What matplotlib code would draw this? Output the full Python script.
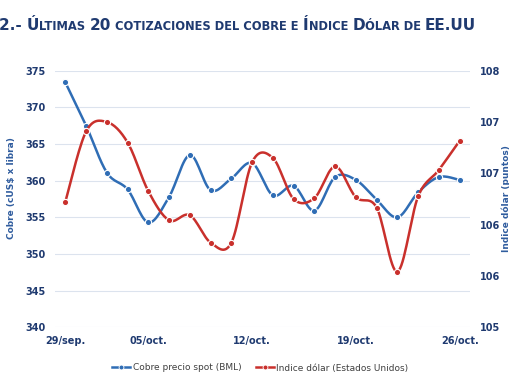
import numpy as np
import matplotlib
matplotlib.use("Agg")
import matplotlib.pyplot as plt
from matplotlib.ticker import FormatStrFormatter

# Data
fechas = ["29/sep.", "30/sep.", "01/oct.", "02/oct.", "05/oct.", "06/oct.", "07/oct.",
          "08/oct.", "09/oct.", "12/oct.", "13/oct.", "14/oct.", "15/oct.", "16/oct.",
          "19/oct.", "20/oct.", "21/oct.", "22/oct.", "23/oct.", "26/oct."]
cobre = [373.4, 367.5, 361.1, 358.8, 354.3, 357.8, 363.5, 358.7, 360.3, 362.4,
         358.0, 359.3, 355.9, 360.5, 360.1, 357.4, 355.0, 358.4, 360.5, 360.1]
dolar = [106.47, 107.29, 107.40, 107.16, 106.59, 106.25, 106.31, 105.99, 105.99, 106.93,
         106.98, 106.50, 106.51, 106.88, 106.52, 106.40, 105.65, 106.53, 106.84, 107.18]
etiquetas_idx = [0, 4, 9, 14, 19]

AZUL = "#2F6DB5"
ROJO = "#C9302C"
NAVY = "#1F3A70"


def suavizar(x, y, n=16):
    """Catmull-Rom style smoothing like Excel's smoothed lines."""
    x = np.asarray(x, float)
    y = np.asarray(y, float)
    px = np.concatenate([[x[0]], x, [x[-1]]])
    py = np.concatenate([[y[0]], y, [y[-1]]])
    xs, ys = [], []
    t = np.linspace(0, 1, n, endpoint=False)
    for i in range(1, len(px) - 2):
        p0 = np.array([px[i - 1], py[i - 1]])
        p1 = np.array([px[i], py[i]])
        p2 = np.array([px[i + 1], py[i + 1]])
        p3 = np.array([px[i + 2], py[i + 2]])
        c1 = p1 + (p2 - p0) / 6
        c2 = p2 - (p3 - p1) / 6
        b = ((1 - t) ** 3)[:, None] * p1 + (3 * (1 - t) ** 2 * t)[:, None] * c1 \
            + (3 * (1 - t) * t ** 2)[:, None] * c2 + (t ** 3)[:, None] * p2
        xs.extend(b[:, 0])
        ys.extend(b[:, 1])
    xs.append(x[-1])
    ys.append(y[-1])
    return np.array(xs), np.array(ys)


fig = plt.figure(figsize=(5.1, 3.82), dpi=100)
ax = fig.add_axes([55 / 510, 1 - 327.3 / 382, 415 / 510, 256.6 / 382])
ax2 = ax.twinx()

x = np.arange(len(fechas))

# grid
ax.set_ylim(340, 375)
ax.set_yticks(np.arange(340, 376, 5))
ax.grid(axis="y", color="#DCE3EE", linewidth=0.8)
ax.set_axisbelow(True)
ax.set_xlim(-0.5, len(fechas) - 0.5)
ax2.set_ylim(105, 108)
ax2.set_yticks(np.arange(105, 108.01, 0.6))
ax2.yaxis.set_major_formatter(FormatStrFormatter("%.0f"))

for a in (ax, ax2):
    for s in a.spines.values():
        s.set_visible(False)
    a.tick_params(length=0, labelsize=7, labelcolor=NAVY)
    for lab in a.get_yticklabels():
        lab.set_fontweight("bold")
ax.tick_params(axis="y", pad=7)
ax2.tick_params(axis="y", pad=7)

ax.set_xticks(etiquetas_idx)
ax.set_xticklabels([fechas[i] for i in etiquetas_idx], fontweight="bold")
ax.tick_params(axis="x", pad=6)

# series
sx, sy = suavizar(x, cobre)
ax.plot(sx, sy, color=AZUL, linewidth=1.8, zorder=3)
ax.plot(x, cobre, "o", color=AZUL, markersize=4.5, markeredgecolor="white",
        markeredgewidth=0.8, zorder=4)
rx, ry = suavizar(x, dolar)
ax2.plot(rx, ry, color=ROJO, linewidth=1.8, zorder=3)
ax2.plot(x, dolar, "o", color=ROJO, markersize=4.5, markeredgecolor="white",
         markeredgewidth=0.8, zorder=4)

# axis labels
fig.text(12 / 510, 1 - 188 / 382, "Cobre (cUS$ x libra)", rotation=90, ha="center",
         va="center", fontsize=6.5, fontweight="bold", color="#2F5C9E")
fig.text(506 / 510, 1 - 199 / 382, "Indice dólar (puntos)", rotation=90, ha="center",
         va="center", fontsize=6.5, fontweight="bold", color="#2F5C9E")

# legend
h1, = ax.plot([], [], "-o", color=AZUL, markersize=3.5, markeredgecolor="white",
              markeredgewidth=0.6, linewidth=1.8)
h2, = ax.plot([], [], "-o", color=ROJO, markersize=3.5, markeredgecolor="white",
              markeredgewidth=0.6, linewidth=1.8)
fig.legend([h1, h2], ["Cobre precio spot (BML)", "Indice dólar (Estados Unidos)"],
           loc="center", bbox_to_anchor=(0.51, 1 - 368 / 382), ncol=2, frameon=False,
           fontsize=6.5, handlelength=2.0, handletextpad=0.3, columnspacing=1.6,
           labelcolor="#404040")

# title in small caps
piezas = [("2.- Ú", True, False), ("LTIMAS", False, True), ("20", True, True),
          ("COTIZACIONES DEL COBRE E", False, True), ("Í", True, False),
          ("NDICE", False, True), ("D", True, False), ("ÓLAR DE", False, True),
          ("EE.UU", True, False)]
renderer = fig.canvas.get_renderer()
xpos = -1.0
base_y = 1 - 30 / 382
for texto, grande, espacio in piezas:
    size = 11 if grande else 8.3
    t = fig.text(xpos / 510, base_y, texto, fontsize=size, fontweight="bold",
                 color=NAVY, va="baseline", ha="left")
    bb = t.get_window_extent(renderer)
    xpos += bb.width
    if espacio:
        xpos += 4.2

fig.savefig("out.png", dpi=100)
